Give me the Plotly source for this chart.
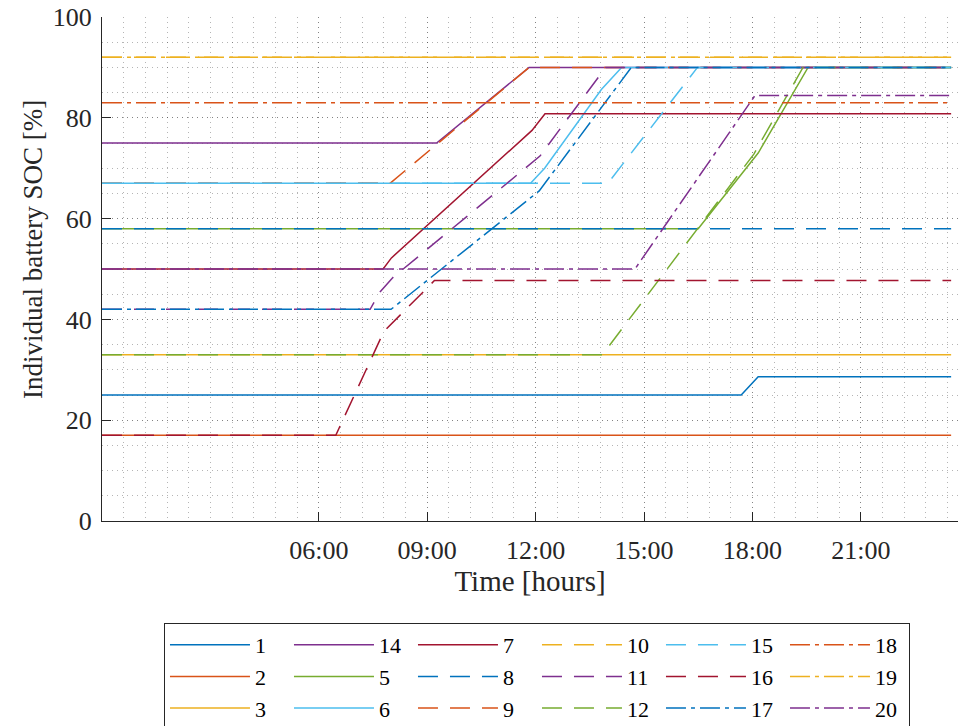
import plotly.graph_objects as go

# ---------------- data (time in hours, SOC in %) ----------------
T_1 = [0, 17.69, 18.16, 23.5]
SOC_1 = [25, 25, 28.6, 28.6]
T_2 = [0, 23.5]
SOC_2 = [17, 17]
T_3 = [0, 23.5]
SOC_3 = [33, 33]
T_14 = [0, 9.26, 11.82, 23.5]
SOC_14 = [75, 75, 90, 90]
T_5 = [0, 16.5, 18.16, 19.54, 23.5]
SOC_5 = [58, 58, 73, 90, 90]
T_6 = [0, 11.86, 12.25, 13.82, 14.38, 23.5]
SOC_6 = [67, 67, 70, 85.6, 90, 90]
T_7 = [0, 7.78, 8.01, 11.9, 12.26, 23.5]
SOC_7 = [50, 50, 52.2, 77.5, 80.8, 80.8]
T_8 = [0, 23.5]
SOC_8 = [58, 58]
T_9 = [0, 7.97, 11.82, 23.5]
SOC_9 = [67, 67, 90, 90]
T_10 = [0, 23.5]
SOC_10 = [92, 92]
T_11 = [0, 7.42, 7.7, 8.05, 12.12, 13.94, 23.5]
SOC_11 = [42, 42, 45.5, 48.3, 72.4, 90, 90]
T_12 = [0, 13.85, 18.04, 19.4, 23.5]
SOC_12 = [33, 33, 72.8, 90, 90]
T_15 = [0, 14.0, 16.48, 23.5]
SOC_15 = [67, 67, 90, 90]
T_16 = [0, 6.47, 7.8, 9.2, 23.5]
SOC_16 = [17, 17, 37.6, 47.7, 47.7]
T_17 = [0, 8.0, 12.1, 14.65, 23.5]
SOC_17 = [42, 42, 65.5, 90, 90]
T_18 = [0, 23.5]
SOC_18 = [83, 83]
T_19 = [0, 23.5]
SOC_19 = [92, 92]
T_20 = [0, 14.75, 18.07, 23.5]
SOC_20 = [50, 50, 84.4, 84.4]

SERIES_NAMES = ["1", "2", "3", "14", "5", "6", "7", "8", "9", "10", "11", "12",
                "15", "16", "17", "18", "19", "20"]
LEGEND_ROW_ORDER = ["1", "14", "7", "10", "15", "18",
                    "2", "5", "8", "11", "16", "19",
                    "3", "6", "9", "12", "17", "20"]
TICK_HOURS = [6, 9, 12, 15, 18, 21]
TICK_LABELS = ["06:00", "09:00", "12:00", "15:00", "18:00", "21:00"]
Y_TITLE = "Individual battery SOC [%]"
X_TITLE = "Time [hours]"

DATA = {
    "1": (T_1, SOC_1), "2": (T_2, SOC_2), "3": (T_3, SOC_3), "14": (T_14, SOC_14),
    "5": (T_5, SOC_5), "6": (T_6, SOC_6), "7": (T_7, SOC_7), "8": (T_8, SOC_8),
    "9": (T_9, SOC_9), "10": (T_10, SOC_10), "11": (T_11, SOC_11), "12": (T_12, SOC_12),
    "15": (T_15, SOC_15), "16": (T_16, SOC_16), "17": (T_17, SOC_17), "18": (T_18, SOC_18),
    "19": (T_19, SOC_19), "20": (T_20, SOC_20),
}

# ---------------- style ----------------
COLORS = ["#0072BD", "#D95319", "#EDB120", "#7E2F8E", "#77AC30", "#4DBEEE", "#A2142F"]
DASHES = ["solid", "20px,12px", "20px,5px,4px,5px"]
FONT = "'Liberation Serif', 'Times New Roman', 'DejaVu Serif', serif"
AX = "#262626"
GRID = "rgba(30,30,30,0.33)"
GDASH = "1px,4px"

fig = go.Figure()
for i, name in enumerate(SERIES_NAMES):
    t, soc = DATA[name]
    fig.add_trace(go.Scatter(
        x=t, y=soc, mode="lines", name=name,
        line=dict(color=COLORS[i % 7], width=1.5, dash=DASHES[i // 7]),
        legendrank=LEGEND_ROW_ORDER.index(name) + 1,
        hoverinfo="skip",
    ))

fig.update_layout(
    width=958, height=726,
    margin=dict(l=102, r=0, t=17, b=205),
    paper_bgcolor="white", plot_bgcolor="white",
    font=dict(family=FONT, size=26, color="#262626"),
    showlegend=True,
    legend=dict(
        orientation="h", xref="paper", x=0.0724, xanchor="left",
        yref="container", y=1 - 623 / 726, yanchor="top",
        bordercolor="#262626", borderwidth=1, bgcolor="white",
        font=dict(family=FONT, size=22, color="black"),
        itemwidth=80, entrywidth=29, entrywidthmode="pixels", traceorder="normal",
        itemclick=False, itemdoubleclick=False,
    ),
)

fig.update_xaxes(
    range=[0, 23.69], showline=True, linecolor=AX, linewidth=1, mirror=False,
    tickmode="array", tickvals=TICK_HOURS, ticktext=TICK_LABELS,
    ticks="inside", ticklen=9, tickcolor=AX, tickwidth=1, ticklabelstandoff=6,
    tickfont=dict(family=FONT, size=26, color=AX),
    showgrid=True, gridcolor=GRID, griddash=GDASH, gridwidth=1,
    minor=dict(tick0=0, dtick=0.6, showgrid=True, gridcolor=GRID, griddash=GDASH,
               gridwidth=1, ticks=""),
    zeroline=False, automargin=False,
    title=dict(text=X_TITLE, font=dict(family=FONT, size=29, color=AX), standoff=4),
)
fig.update_yaxes(
    range=[0, 100], showline=True, linecolor=AX, linewidth=1, mirror=False,
    tickvals=[0, 20, 40, 60, 80, 100],
    ticks="inside", ticklen=9, tickcolor=AX, tickwidth=1, ticklabelstandoff=4,
    tickfont=dict(family=FONT, size=26, color=AX),
    showgrid=True, gridcolor=GRID, griddash=GDASH, gridwidth=1,
    minor=dict(tick0=0, dtick=5, showgrid=True, gridcolor=GRID, griddash=GDASH,
               gridwidth=1, ticks=""),
    zeroline=False, automargin=False,
)

# y-axis title placed as in the reference (slightly above the axis centre)
fig.add_annotation(
    text=Y_TITLE, xref="paper", yref="paper", x=-0.0806, y=0.5377,
    xanchor="center", yanchor="middle", textangle=-90, showarrow=False,
    font=dict(family=FONT, size=27, color=AX),
)

fig.write_html("out.html")
